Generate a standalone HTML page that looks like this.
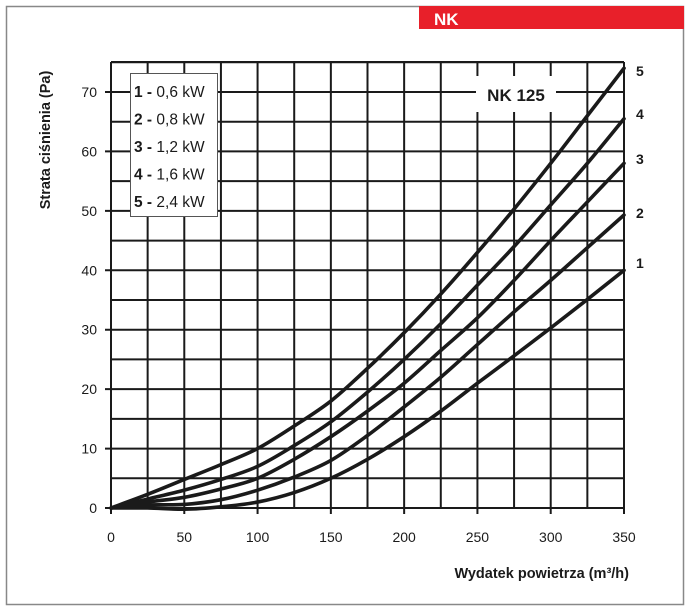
<!DOCTYPE html>
<html><head><meta charset="utf-8"><style>
html,body{margin:0;padding:0;background:#fff;}
svg{display:block;}
text{font-family:"Liberation Sans",sans-serif;}
</style></head><body>
<svg id="s" width="690" height="610" viewBox="0 0 690 610" xmlns="http://www.w3.org/2000/svg">
<rect x="6.5" y="6.5" width="677" height="598" fill="none" stroke="#888" stroke-width="1.5"/>
<rect x="419" y="6" width="265" height="23" fill="#e8202a"/>
<text x="434" y="25" font-size="17" font-weight="bold" fill="#fff">NK</text>
<g id="grid" stroke="#1a1a1a" stroke-width="2"></g>
<g id="curves" fill="none" stroke="#1a1a1a" stroke-width="3.6" stroke-linecap="round"></g>
<rect x="130.5" y="73.5" width="87" height="143" fill="#fff" stroke="#555" stroke-width="1"/>
<g font-size="15.5" fill="#1a1a1a">
<text x="134" y="97"><tspan font-weight="bold">1 -</tspan> 0,6 kW</text>
<text x="134" y="124.5"><tspan font-weight="bold">2 -</tspan> 0,8 kW</text>
<text x="134" y="152"><tspan font-weight="bold">3 -</tspan> 1,2 kW</text>
<text x="134" y="179.5"><tspan font-weight="bold">4 -</tspan> 1,6 kW</text>
<text x="134" y="207"><tspan font-weight="bold">5 -</tspan> 2,4 kW</text>
</g>
<rect x="476" y="76" width="80" height="36" fill="#fff"/>
<text x="516" y="101" font-size="17" font-weight="bold" text-anchor="middle" fill="#1a1a1a">NK 125</text>
<g font-size="14" font-weight="bold" fill="#1a1a1a">
<text x="636" y="76">5</text><text x="636" y="119">4</text><text x="636" y="164">3</text><text x="636" y="218">2</text><text x="636" y="268">1</text>
</g>
<g id="lbl" font-size="14" fill="#1a1a1a"></g>
<text x="629" y="578" font-size="14.5" font-weight="bold" text-anchor="end" fill="#1a1a1a">Wydatek powietrza (m³/h)</text>
<text transform="translate(50,140) rotate(-90)" font-size="14.5" font-weight="bold" text-anchor="middle" fill="#1a1a1a">Strata ciśnienia (Pa)</text>
</svg>
<script>
(function(){
var X0=111,X1=624,Y0=508,PY=(508-92)/70;
function px(x){return X0+(X1-X0)*x/350;}function py(y){return Y0-PY*y;}
var ns="http://www.w3.org/2000/svg",g=document.getElementById('grid'),L=document.getElementById('lbl');
function el(p,t,a,txt){var e=document.createElementNS(ns,t);for(var k in a)e.setAttribute(k,a[k]);if(txt!=null)e.textContent=txt;p.appendChild(e);return e;}
var gt=62;
for(var i=0;i<=14;i++){var x=px(i*25);el(g,'line',{x1:x,y1:gt,x2:x,y2:Y0+(i%2==0?6:0)});}
for(var j=0;j<=15;j++){var y=py(j*5);if(y<gt-1)continue;el(g,'line',{x1:X0-(j%2==0?6:0),y1:y,x2:X1,y2:y});}
el(g,'line',{x1:X0,y1:gt,x2:X1,y2:gt});
for(var j=0;j<=70;j+=10)el(L,'text',{x:97,y:py(j)+5,'text-anchor':'end'},j);
for(var i=0;i<=350;i+=50)el(L,'text',{x:px(i),y:542,'text-anchor':'middle'},i);
var D=[
[0,0,-0.2,0.2,1,2.6,5,8.2,12,16.3,21,25.6,30.3,35.1,40],
[0,0.5,0.6,1.4,3,5.2,8,12.2,17,22,27.5,33,38.3,43.8,49.3],
[0,1,1.8,3.2,5,8.2,12,16.3,21,26.5,32,38.3,45,51.5,58],
[0,1.5,3,4.8,7,10.5,14.5,19.5,25,31,37.5,44,51,58,65.5],
[0,2.3,4.8,7.3,10,13.8,18,23.5,29.5,36,43,50.3,58,66,74]];
var C=document.getElementById('curves');
D.forEach(function(d){var p=d.map(function(v,i){return [px(i*25),py(v)];});var s='M'+p[0];
for(var i=0;i<p.length-1;i++){var a=p[Math.max(i-1,0)],b=p[i],c=p[i+1],e=p[Math.min(i+2,p.length-1)];
s+=' C'+(b[0]+(c[0]-a[0])/6)+','+(b[1]+(c[1]-a[1])/6)+' '+(c[0]-(e[0]-b[0])/6)+','+(c[1]-(e[1]-b[1])/6)+' '+c[0]+','+c[1];}
el(C,'path',{d:s});});
})();
</script>
</body></html>
